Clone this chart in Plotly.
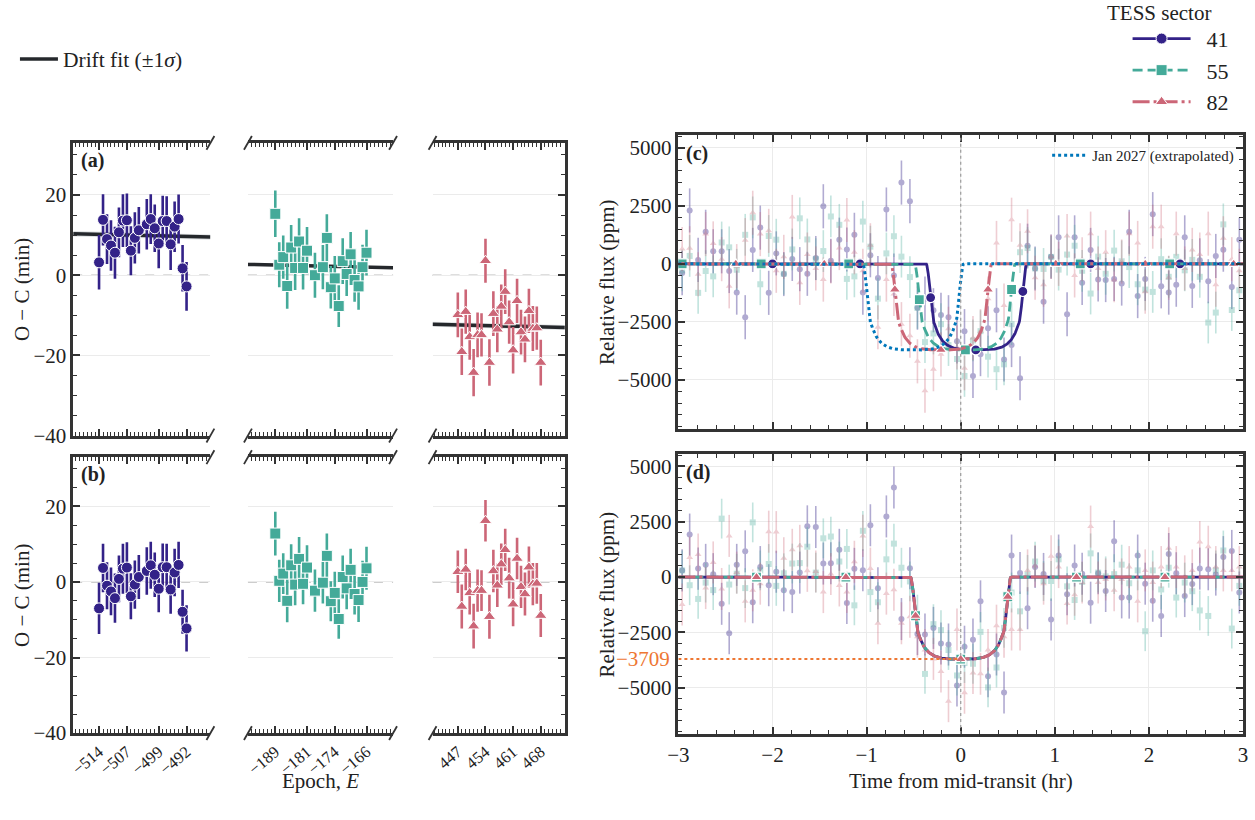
import numpy as np
import plotly.graph_objects as go

W, H = 1255, 820
FONT = "Liberation Serif"

# ---------------- O - C timing data (minutes) ----------------
SECTORS = ["41", "55", "82"]
COLORS = ["#332288", "#44AA99", "#CC6677"]
SYMBOLS = ["circle", "square", "triangle-up"]
DASHES = ["solid", "10px,5px", "17px,4px,3px,4px"]

EPOCH_41 = [-514, -513, -512, -511, -510, -509, -508, -507, -506, -505, -504,
            -502, -501, -500, -499, -498, -497, -496, -495, -494, -493, -492]
OC_41 = [3.2, 13.8, 9.0, 7.4, 5.6, 10.7, 13.6, 13.7, 6.1, 9.3, 11.2,
         12.7, 14.0, 11.7, 7.9, 13.5, 13.5, 7.7, 12.1, 14.0, 1.7, -2.8]
RES_41 = [-7.0, 3.7, -1.0, -2.5, -4.3, 0.8, 3.5, 3.8, -3.8, -0.7, 1.3,
          2.9, 4.4, 1.9, -1.8, 3.9, 3.9, -2.0, 2.5, 4.5, -7.9, -12.3]
ERR_41 = [6.8, 6.4, 6.2, 6.3, 6.5, 6.2, 6.6, 6.7, 6.1, 6.4, 5.8,
          6.3, 6.2, 5.9, 6.2, 6.3, 6.2, 6.4, 6.3, 6.1, 5.8, 6.1]

EPOCH_55 = [-189, -188, -187, -186, -185, -184, -183, -182, -181, -179, -177,
            -176, -175, -174, -173, -172, -171, -170, -169, -168, -167, -166]
OC_55 = [15.3, 2.6, 4.5, -2.7, 6.9, 1.8, 8.4, 1.8, 6.1, 0.0, 2.0,
         9.3, -3.0, -0.8, -7.7, 3.5, 0.3, 5.2, -1.2, -2.8, 2.0, 5.6]
RES_55 = [12.8, 0.3, 2.2, -5.0, 4.4, -0.7, 6.1, -0.5, 3.8, -2.3, -0.2,
          6.9, -5.1, -2.9, -9.8, 1.3, -1.7, 3.2, -3.2, -4.8, 0.0, 3.6]
ERR_55 = [5.8, 5.6, 5.4, 5.7, 5.6, 5.5, 5.8, 5.4, 5.9, 5.6, 5.5,
          5.9, 5.3, 5.6, 5.2, 5.7, 5.5, 5.6, 5.4, 5.8, 5.6, 5.7]

EPOCH_82 = [447, 448, 449, 450, 451, 452, 453, 454, 455, 456, 457,
            458, 459, 460, 461, 462, 463, 464, 465, 466, 467, 468]
OC_82 = [-9.9, -19.1, -9.1, -15.4, -24.3, -14.9, -14.9, 3.6, -21.8, -9.6, -13.5,
         -7.8, -4.1, -11.7, -18.7, -6.4, -14.2, -16.0, -8.9, -13.3, -13.2, -21.8]
RES_82 = [2.7, -6.5, 3.3, -2.9, -11.7, -2.3, -2.3, 16.2, -9.2, 2.9, -0.9,
          4.7, 8.5, 1.0, -5.9, 6.2, -1.3, -3.2, 3.9, -0.6, -0.4, -8.9]
ERR_82 = [5.6, 5.8, 5.5, 5.7, 5.9, 5.6, 5.4, 5.5, 5.8, 5.6, 5.7,
          5.5, 5.6, 5.4, 5.8, 5.5, 5.6, 5.7, 5.5, 5.6, 5.4, 5.7]

EPOCHS = [EPOCH_41, EPOCH_55, EPOCH_82]
OCS = [OC_41, OC_55, OC_82]
RESS = [RES_41, RES_55, RES_82]
ERRS = [ERR_41, ERR_55, ERR_82]

# linear drift fit  O-C = c0 + c1*E  (minutes)
DRIFT_C0, DRIFT_C1 = -1.91, -0.02348
DRIFT_SIG_C0, DRIFT_SIG_C1 = 0.30, 0.0012

EPOCH_MAJOR = [[-514, -507, -499, -492], [-189, -181, -174, -166], [447, 454, 461, 468]]
EPOCH_RANGES = [[-520.5, -486.0], [-195.9, -159.3], [440.6, 474.1]]

# ---------------- light curves (ppm) ----------------
TIME_HR = [-2.96, -2.88, -2.79, -2.71, -2.63, -2.54, -2.46, -2.38, -2.29, -2.21,
           -2.13, -2.04, -1.96, -1.88, -1.79, -1.71, -1.63, -1.54, -1.46, -1.38,
           -1.29, -1.21, -1.13, -1.04, -0.96, -0.88, -0.79, -0.71, -0.63, -0.54,
           -0.46, -0.38, -0.29, -0.21, -0.13, -0.04, 0.04, 0.13, 0.21, 0.29,
           0.38, 0.46, 0.54, 0.63, 0.71, 0.79, 0.88, 0.96, 1.04, 1.13,
           1.21, 1.29, 1.38, 1.46, 1.54, 1.63, 1.71, 1.79, 1.88, 1.96,
           2.04, 2.13, 2.21, 2.29, 2.38, 2.46, 2.54, 2.63, 2.71, 2.79,
           2.88, 2.96]

FLUX_C_41 = [-400, 2300, 170, 1380, 540, 540, -310, -1240, -2300, 600,
             1560, -1250, 450, -440, 210, -230, -430, 250, 2480, 130,
             1040, 620, 1250, -1240, 370, -610, 2340, -500, 3500, 2700,
             -1890, -1500, -2000, -2200, -2300, -3340, -2900, -4830, -3890, -2780,
             -2000, -4120, -3500, -4930, 780, -200, -1630, 310, 1140, -2170,
             1140, -820, 600, -670, -700, -650, -850, 1380, -1390, -650,
             2140, -970, -1240, -900, 1140, -950, 150, -750, 340, 610,
             -1000, 1040]
FLUX_C_55 = [-280, 340, -1250, -310, -540, 920, 710, -255, 1250, 2000,
             -880, 1200, 1040, -430, 620, 1960, 1050, 200, 550, 2040,
             1680, -650, -540, 1820, 740, -1500, 450, 1190, 310, -570,
             -1900, -3370, -3000, -2600, -3500, -4100, -4830, -3300, -2900, -4000,
             -4540, -4330, -2600, 500, 680, -200, -220, 300, -250, 400,
             780, -300, -1280, 310, -430, 570, 110, -140, -880, -1110,
             -1210, 200, -560, 300, -280, 170, -560, -2530, -2100, 1700,
             -1990, -1140]
FLUX_C_82 = [640, 670, -450, 1280, 880, 200, -970, -100, 1020, 2200,
             1280, 1420, -300, 300, 2020, -820, 400, -200, -680, 100,
             680, 1890, 500, -300, 800, -2730, -680, -1300, -2600, -3100,
             -4200, -5470, -4540, -3900, -2800, -3600, -4500, -3200, -2900, -1500,
             900, -1800, 1900, 800, 1400, -600, -900, 300, 0, 1200,
             -500, 200, 1300, -200, 500, -700, 100, 1300, 900, -1200,
             1600, 1600, -600, 1300, -200, 600, 400, 1300, -900, 1100,
             200, -300]

FLUX_D_41 = [300, 1920, 380, 550, 130, -1210, -2540, 550, 1160, -1140,
             450, -370, 240, -600, -680, 200, 2290, 2260, 610, 620,
             1230, -1170, 370, 310, 2340, -510, 2740, 4050, -1900, 400,
             -2580, -2600, -2300, -3000, -3050, -4900, -3150, -2830, -1100, -4480,
             -3500, -5220, 970, 180, -1410, 450, 140, -1920, 970, -780,
             520, 150, -1160, 170, -630, 1620, -920, -930, 970, -300,
             -1070, -1760, 1040, 170, -860, -320, 380, 350, 110, 900,
             1180, -700]
FLUX_D_55 = [300, -370, -990, -250, -590, 2640, -340, 150, -500, 2470,
             300, 590, -400, 170, 610, 630, 1370, 200, 1750, 1830,
             700, 1270, -1280, 2090, -680, -1140, 800, 1510, 420, -200,
             -1700, -4380, -2130, -2400, -3300, -4450, -3890, -3920, -2480, -4990,
             -4090, -2300, -700, -1550, 100, 700, -180, -180, 800, -420,
             -1040, -220, 1070, 200, 30, 130, 560, -280, 300, -2450,
             300, -560, 420, -930, -250, -640, -1510, -1760, 300, 1200,
             -2330, -400]
FLUX_D_82 = [-1240, 880, 1020, -500, 660, -540, 1860, 200, -1100, -600,
             -300, 2050, 2030, 850, 1230, 1410, 280, 250, -680, 140,
             -380, -680, 690, 1860, 380, -2090, -750, -580, -2090, -1800,
             -2700, -3300, -3700, -4270, -5610, -2370, -5230, -4340, -4370, -3300,
             -2200, -2700, -2370, -2370, 300, 500, -300, 940, 450, -1200,
             -800, -250, 2280, -250, -110, -600, -110, 450, -1100, 300,
             -250, 450, 1300, 450, 30, 300, 1580, 1370, 450, 300,
             300, 450]
FLUX_ERR = [950, 900, 950]
FLUX_OPACITY = [0.38, 0.32, 0.32]

FLUX_C = [FLUX_C_41, FLUX_C_55, FLUX_C_82]
FLUX_D = [FLUX_D_41, FLUX_D_55, FLUX_D_82]

# transit model parameters
DEPTH_PPM = 3709
HALF_DUR_HR = 0.535
RADIUS_RATIO = 0.09
LD_C, LD_A = 0.79, 1.77
T0_C = [0.167, 0.045, -0.205]          # observed mid-transit shift per sector (hr)
T0_EXTRAP = -0.505                     # Jan 2027 extrapolation
EXTRAP_LABEL = "Jan 2027 (extrapolated)"
EXTRAP_COLOR = "#0077BB"
DEPTH_COLOR = "#EE7733"

MARK_C = [[-2.96, -2.0, -1.07, -0.32, 0.16, 0.66, 1.38, 2.33],
          [-2.96, -2.12, -1.19, -0.44, 0.05, 0.54, 1.27, 2.22],
          [-2.39, -1.45, -0.70, -0.21, 0.29, 1.01, 1.96, 2.90]]
MARK_D = [-2.17, -1.22, -0.48, 0.0, 0.50, 1.23, 2.17]


def transit(t, t0):
    t = np.asarray(t, dtype=float)
    p = RADIUS_RATIO
    z = np.abs(t - t0) / HALF_DUR_HR * (1 + p)
    zc = np.minimum(z, 1 - p)
    mu = np.sqrt(1 - zc ** 2)
    prof = 1 - LD_C * (1 - mu) ** LD_A
    s = np.clip((1 + p - z) / (2 * p), 0, 1)
    f = s * s * (3 - 2 * s)
    return -DEPTH_PPM * f * prof


def drift(E):
    return DRIFT_C0 + DRIFT_C1 * np.asarray(E, dtype=float)


def drift_sig(E):
    E = np.asarray(E, dtype=float)
    return np.sqrt(DRIFT_SIG_C0 ** 2 + (DRIFT_SIG_C1 * E) ** 2)


# ---------------- layout geometry (pixels) ----------------
LEFT_COLS = [(63, 202), (240, 387), (427, 561)]
ROWS_L = [(145, 442), (464, 744)]
RIGHT_X = (676, 1248)
ROWS_R = [(137, 435), (461, 745)]
XTITLE_Y = 793


def pxx(x):
    return x / W


def pyy(y):
    return 1 - y / H


fig = go.Figure()
layout = {}
shapes = []
annotations = []
AX = "#333333"
GRID = "#ebebeb"
TXT = "#222222"

# ---------------- left panels ----------------
for r in range(2):
    for c in range(3):
        idx = r * 3 + c + 1
        xa = f"xaxis{idx}" if idx > 1 else "xaxis"
        ya = f"yaxis{idx}" if idx > 1 else "yaxis"
        xr = f"x{idx}" if idx > 1 else "x"
        yr = f"y{idx}" if idx > 1 else "y"
        x0, x1 = LEFT_COLS[c]
        y0, y1 = ROWS_L[r]
        layout[xa] = dict(
            domain=[pxx(x0), pxx(x1)], range=EPOCH_RANGES[c], anchor=yr,
            showline=True, linecolor=AX, linewidth=2.5, mirror="allticks",
            ticks="inside", ticklen=7, tickwidth=1.5, tickcolor=AX,
            tickmode="array", tickvals=EPOCH_MAJOR[c],
            ticktext=[str(v).replace("-", "\u2212") for v in EPOCH_MAJOR[c]],
            showticklabels=(r == 1), tickangle=-40,
            tickfont=dict(family=FONT, size=16.5, color=TXT),
            minor=dict(ticks="inside", ticklen=4, tickwidth=1.2, tickcolor=AX,
                       tickmode="linear", tick0=0, dtick=1, showgrid=False),
            showgrid=False, zeroline=False,
        )
        yd = dict(
            domain=[pyy(y1), pyy(y0)], range=[-40, 33], anchor=xr,
            tickmode="array", tickvals=[-40, -20, 0, 20],
            ticktext=["\u221240", "\u221220", "0", "20"],
            showgrid=True, gridcolor=GRID, gridwidth=1, zeroline=False,
            tickfont=dict(family=FONT, size=21, color=TXT),
        )
        if c == 0:
            yd.update(showline=True, linecolor=AX, linewidth=2.5, mirror=False,
                      ticks="inside", ticklen=7, tickwidth=1.5, tickcolor=AX,
                      showticklabels=True, side="left",
                      minor=dict(ticks="inside", ticklen=4, tickwidth=1.2,
                                 tickcolor=AX, tickmode="linear", tick0=0, dtick=5))
        elif c == 2:
            yd.update(showline=True, linecolor=AX, linewidth=2.5, mirror=False,
                      ticks="inside", ticklen=7, tickwidth=1.5, tickcolor=AX,
                      showticklabels=False, side="right",
                      minor=dict(ticks="inside", ticklen=4, tickwidth=1.2,
                                 tickcolor=AX, tickmode="linear", tick0=0, dtick=5))
        else:
            yd.update(showline=False, ticks="", showticklabels=False)
        layout[ya] = yd

        # zero reference line
        shapes.append(dict(type="line", xref=f"{xr} domain", yref=yr, x0=0, x1=1,
                           y0=0, y1=0, line=dict(color="#bdbdbd", width=1.5, dash="dash"),
                           layer="below"))

        # drift fit band + line
        ex = np.linspace(EPOCH_RANGES[c][0], EPOCH_RANGES[c][1], 50)
        mid = drift(ex)
        sg = drift_sig(ex)
        if r == 0:
            fig.add_trace(go.Scatter(
                x=np.concatenate([ex, ex[::-1]]),
                y=np.concatenate([mid + sg, (mid - sg)[::-1]]),
                fill="toself", fillcolor="rgba(120,130,140,0.25)", line=dict(width=0),
                mode="lines", hoverinfo="skip", showlegend=False, xaxis=xr, yaxis=yr))
            fig.add_trace(go.Scatter(
                x=ex, y=mid, mode="lines", line=dict(color="#25282c", width=3.5),
                showlegend=False, xaxis=xr, yaxis=yr))
            yvals = OCS[c]
        else:
            yvals = RESS[c]
        fig.add_trace(go.Scatter(
            x=EPOCHS[c], y=yvals, mode="markers",
            marker=dict(symbol=SYMBOLS[c], size=11, color=COLORS[c],
                        line=dict(color="white", width=1)),
            error_y=dict(type="data", array=ERRS[c], thickness=2.6, width=0,
                         color=COLORS[c]),
            showlegend=False, xaxis=xr, yaxis=yr))

        # break marks
        if c == 0:
            marks = [x1]
        elif c == 1:
            marks = [x0, x1]
        else:
            marks = [x0]
        for bx in marks:
            for by in (y0, y1):
                shapes.append(dict(type="line", xref="paper", yref="paper",
                                   x0=pxx(bx - 4), y0=pyy(by + 7),
                                   x1=pxx(bx + 4), y1=pyy(by - 7),
                                   line=dict(color=AX, width=1.8)))

    annotations.append(dict(text="O \u2212 C (min)", xref="paper", yref="paper",
                            x=pxx(11), y=pyy((ROWS_L[r][0] + ROWS_L[r][1]) / 2),
                            xanchor="center", yanchor="middle",
                            textangle=-90, showarrow=False,
                            font=dict(family=FONT, size=21, color=TXT)))
    annotations.append(dict(text="<b>(%s)</b>" % "ab"[r], xref="paper", yref="paper",
                            x=pxx(LEFT_COLS[0][0] + 6), y=pyy(ROWS_L[r][0] + 18),
                            xanchor="left", yanchor="middle", showarrow=False,
                            font=dict(family=FONT, size=20, color=TXT)))

annotations.append(dict(text="Epoch, <i>E</i>", xref="paper", yref="paper",
                        x=pxx(314), y=pyy(XTITLE_Y), xanchor="center", yanchor="middle",
                        showarrow=False, font=dict(family=FONT, size=21, color=TXT)))

# ---------------- right panels ----------------
tm = np.linspace(-3, 3, 1201)
for r in range(2):
    idx = 7 + r
    xa, ya, xr, yr = f"xaxis{idx}", f"yaxis{idx}", f"x{idx}", f"y{idx}"
    y0, y1 = ROWS_R[r]
    layout[xa] = dict(
        domain=[pxx(RIGHT_X[0]), pxx(RIGHT_X[1])], range=[-3, 3], anchor=yr,
        showline=True, linecolor=AX, linewidth=2.5, mirror="allticks",
        ticks="inside", ticklen=7, tickwidth=1.5, tickcolor=AX,
        tickmode="array", tickvals=[-3, -2, -1, 0, 1, 2, 3],
        ticktext=["\u22123", "\u22122", "\u22121", "0", "1", "2", "3"],
        showticklabels=(r == 1), tickfont=dict(family=FONT, size=21, color=TXT),
        minor=dict(ticks="inside", ticklen=4, tickwidth=1.2, tickcolor=AX,
                   tickmode="linear", tick0=0, dtick=0.2, showgrid=False),
        showgrid=True, gridcolor=GRID, zeroline=False,
    )
    layout[ya] = dict(
        domain=[pyy(y1), pyy(y0)], range=[-7100, 5550], anchor=xr,
        showline=True, linecolor=AX, linewidth=2.5, mirror="allticks",
        ticks="inside", ticklen=7, tickwidth=1.5, tickcolor=AX,
        tickmode="array", tickvals=[-5000, -2500, 0, 2500, 5000],
        ticktext=["\u22125000", "\u22122500", "0", "2500", "5000"],
        tickfont=dict(family=FONT, size=21, color=TXT),
        minor=dict(ticks="inside", ticklen=4, tickwidth=1.2, tickcolor=AX,
                   tickmode="linear", tick0=0, dtick=500, showgrid=False),
        showgrid=True, gridcolor=GRID, zeroline=False,
    )
    fluxes = FLUX_C if r == 0 else FLUX_D
    for s in range(3):
        fig.add_trace(go.Scatter(
            x=TIME_HR, y=fluxes[s], mode="markers", opacity=FLUX_OPACITY[s],
            marker=dict(symbol=SYMBOLS[s], size=6, color=COLORS[s]),
            error_y=dict(type="data", array=[FLUX_ERR[s]] * len(TIME_HR),
                         thickness=1.6, width=0, color=COLORS[s]),
            showlegend=False, xaxis=xr, yaxis=yr))
    # vertical zero
    shapes.append(dict(type="line", xref=xr, yref=f"{yr} domain", x0=0, x1=0, y0=0, y1=1,
                       line=dict(color="#9a9a9a", width=1.2, dash="dot")))
    for s in range(3):
        t0 = T0_C[s] if r == 0 else 0.0
        fig.add_trace(go.Scatter(
            x=tm, y=transit(tm, t0), mode="lines",
            line=dict(color=COLORS[s], width=2.8 if s < 2 else 3.0, dash=DASHES[s]),
            showlegend=False, xaxis=xr, yaxis=yr))
        mk = MARK_C[s] if r == 0 else MARK_D
        fig.add_trace(go.Scatter(
            x=mk, y=transit(mk, t0), mode="markers",
            marker=dict(symbol=SYMBOLS[s], size=10, color=COLORS[s],
                        line=dict(color="white", width=1.2)),
            showlegend=False, xaxis=xr, yaxis=yr))
    if r == 0:
        fig.add_trace(go.Scatter(
            x=tm, y=transit(tm, T0_EXTRAP), mode="lines", name=EXTRAP_LABEL,
            line=dict(color=EXTRAP_COLOR, width=3, dash="dot"),
            showlegend=True, legend="legend3", xaxis=xr, yaxis=yr))
    else:
        fig.add_trace(go.Scatter(
            x=[-3, 0], y=[-DEPTH_PPM, -DEPTH_PPM], mode="lines",
            line=dict(color=DEPTH_COLOR, width=2, dash="dot"),
            showlegend=False, xaxis=xr, yaxis=yr))
        annotations.append(dict(text="\u2212%d" % DEPTH_PPM, xref="paper", yref=yr,
                                x=pxx(RIGHT_X[0] - 6), y=-DEPTH_PPM, xanchor="right",
                                yanchor="middle", showarrow=False,
                                font=dict(family=FONT, size=21, color=DEPTH_COLOR)))
    annotations.append(dict(text="Relative flux (ppm)", xref="paper", yref="paper",
                            x=pxx(604), y=pyy((y0 + y1) / 2), textangle=-90,
                            xanchor="center", yanchor="middle",
                            showarrow=False, font=dict(family=FONT, size=21, color=TXT)))
    annotations.append(dict(text="<b>(%s)</b>" % "cd"[r], xref="paper", yref="paper",
                            x=pxx(RIGHT_X[0] + 6), y=pyy(y0 + 19), xanchor="left",
                            yanchor="middle", showarrow=False,
                            font=dict(family=FONT, size=20, color=TXT)))

annotations.append(dict(text="Time from mid-transit (hr)", xref="paper", yref="paper",
                        x=pxx(962), y=pyy(XTITLE_Y), xanchor="center", yanchor="middle",
                        showarrow=False, font=dict(family=FONT, size=21, color=TXT)))

# legend title for TESS sectors
annotations.append(dict(text="TESS sector", xref="paper", yref="paper",
                        x=pxx(1163), y=pyy(13), xanchor="center", yanchor="middle",
                        showarrow=False, font=dict(family=FONT, size=21, color=TXT)))

# ---------------- legends ----------------
fig.add_trace(go.Scatter(x=[None], y=[None], mode="lines", name="Drift fit (\u00b11<i>\u03c3</i>)",
                         line=dict(color="#25282c", width=3.5), legend="legend"))
for s in range(3):
    fig.add_trace(go.Scatter(x=[None], y=[None], mode="lines+markers",
                             name="\u2002" + SECTORS[s],
                             line=dict(color=COLORS[s], width=2.8, dash=DASHES[s]),
                             marker=dict(symbol=SYMBOLS[s], size=11, color=COLORS[s],
                                         line=dict(color="white", width=1)),
                             legend="legend2"))

fig.update_layout(
    width=W, height=H, margin=dict(l=0, r=0, t=0, b=0),
    paper_bgcolor="white", plot_bgcolor="white",
    font=dict(family=FONT, color=TXT),
    shapes=shapes, annotations=annotations,
    legend=dict(x=pxx(4), y=pyy(60), xanchor="left", yanchor="middle",
                bgcolor="rgba(0,0,0,0)", font=dict(family=FONT, size=21.5),
                itemwidth=38),
    legend2=dict(x=pxx(1131), y=pyy(18), xanchor="left", yanchor="top",
                 bgcolor="rgba(0,0,0,0)", font=dict(family=FONT, size=22),
                 itemwidth=58, tracegroupgap=0),
    legend3=dict(x=pxx(1244), y=pyy(141), xanchor="right", yanchor="top",
                 bgcolor="rgba(255,255,255,0)", font=dict(family=FONT, size=15),
                 itemwidth=35),
    **layout,
)

fig.write_html("out.html", config={"displayModeBar": False},
               post_script="document.body.style.margin='0px';"
                           "document.body.style.overflow='hidden';")
